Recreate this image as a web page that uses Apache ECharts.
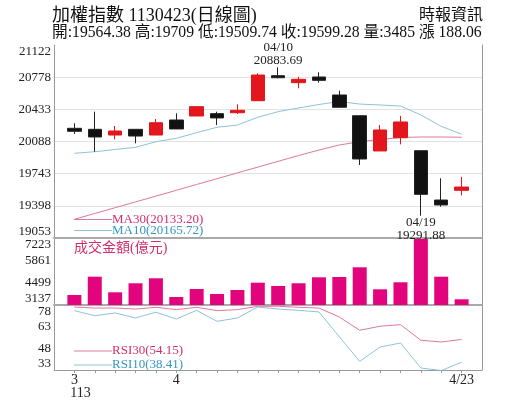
<!DOCTYPE html>
<html><head><meta charset="utf-8">
<script src="https://cdn.jsdelivr.net/npm/echarts@6/dist/echarts.min.js"></script>
<style>html,body{margin:0;padding:0;background:#fff}#c{width:515px;height:413px}</style>
</head><body><div id="c"></div>
<script>
// ---- data ----
const dates = ['03/25','03/26','03/27','03/28','03/29','04/01','04/02','04/03','04/08','04/09',
               '04/10','04/11','04/12','04/15','04/16','04/17','04/18','04/19','04/22','04/23'];
const openV  = [20229,20218,20157,20218,20157,20318,20361,20386,20396,20525,20793,20718,20779,20586,20364,19986,20128,19989,19460,19564.38];
const closeV = [20197,20136,20200,20146,20289,20222,20461,20340,20422,20800,20771,20754,20743,20454,19900,20211,20297,19521,19407,19599.28];
const lowV   = [20168,19978,20111,20068,20157,20222,20361,20264,20382,20525,20765,20658,20718,20454,19836,19986,20057,19291.88,19389,19509.74];
const highV  = [20283,20407,20254,20218,20329,20390,20465,20407,20486,20819,20883.69,20782,20829,20632,20364,20264,20361,19989,19693,19709];
const ma10   = [19961,19978,20002,20025,20085,20122,20182,20240,20264,20347,20407,20447,20484,20516,20489,20479,20468,20372,20250,20165.72];
const ma30   = [19253,19316,19378,19440,19502,19564,19627,19689,19751,19813,19875,19937,19996,20050,20085,20109,20130,20136,20136,20133.20];
const volume = [3747,4863,3912,4461,4766,3625,4113,3808,4052,4497,4296,4461,4827,4845,5437,4095,4522,7163,4863,3485];
const rsi30  = [76.6,75.9,75.9,75.2,76.4,74.8,76.4,74.1,74.8,77.1,77.1,76.4,75.9,69.7,60.5,63.3,64.4,53.6,52.4,54.15];
const rsi10  = [74.1,70.6,72.5,69.0,73.0,68.3,74.3,66.7,69.0,76.6,75.2,74.3,73.2,56.0,39.0,48.9,51.7,34.4,32.6,38.41];
const priceTicks = [19053,19398,19743,20088,20433,20778,21122];
const volTicks = [3137,4499,5861,7223];
const rsiTicks = [33,48,63,78];
const xLabels = {'03/25':'3','04/01':'4','04/23':'4/23'};
const rocYear = '113';
const titleText = '加權指數 1130423(日線圖)';
const sourceText = '時報資訊';
const infoText = '開:19564.38 高:19709 低:19509.74 收:19599.28 量:3485 漲 188.06';

// ---- chart ----
const SERIF = '"Liberation Serif","Times New Roman","Noto Sans CJK TC",serif';
const PINK_T = '#d12f6c', BLUE_T = '#3399c2';
const PINK_L = '#dc7a9c', BLUE_L = '#8ec3d6';
const cats = ['_s', ...dates, '_e'];
const pairs = arr => arr.map((v, i) => [dates[i], v]);
const last = a => a[a.length - 1];

const L = 54, W = 428;
const grids = [
  {left: L, width: W, top: 45, height: 193},
  {left: L, width: W, top: 238, height: 67},
  {left: L, width: W, top: 305, height: 65}
];
const xAxisBase = (gi, showLabels, lineW) => ({
  type: 'category', gridIndex: gi, data: cats, boundaryGap: false,
  axisLine: {show: true, lineStyle: {color: lineW > 1 ? '#a9a9a9' : '#999', width: lineW}},
  axisTick: {show: showLabels, length: 3, lineStyle: {color: '#999'},
             interval: (i, v) => v !== '_s' && v !== '_e'},
  axisLabel: {show: showLabels, interval: 0, margin: 3, fontFamily: SERIF, fontSize: 14, color: '#222',
              formatter: v => xLabels[v] || ''},
  splitLine: {show: false}
});
const yLabel = {fontFamily: SERIF, fontSize: 13, color: '#222', margin: 3,
  formatter: v => String(Math.round(v)),
  verticalAlignMinLabel: 'bottom', verticalAlignMaxLabel: 'top'};
const rightAxis = gi => ({type: 'value', gridIndex: gi, position: 'right', min: 0, max: 1,
  axisLine: {show: true, lineStyle: {color: '#999'}}, axisTick: {show: false},
  axisLabel: {show: false}, splitLine: {show: false}});

const textG = (x, y, text, style) => ({type: 'text', x, y, silent: true,
  style: Object.assign({text, fontFamily: SERIF, fill: '#222', verticalAlign: 'middle'}, style)});
const lineG = (x1, x2, y, color) => ({type: 'line', silent: true,
  shape: {x1, y1: y, x2, y2: y}, style: {stroke: color, lineWidth: 1}});

const option = {
  animation: false,
  backgroundColor: '#fff',
  grid: grids,
  xAxis: [xAxisBase(0, false, 2), xAxisBase(1, false, 2), xAxisBase(2, true, 1)],
  yAxis: [
    {type: 'value', gridIndex: 0, min: priceTicks[0], max: last(priceTicks),
     axisLine: {show: true, lineStyle: {color: '#999'}},
     axisTick: {show: false, customValues: priceTicks.slice(0, -1)},
     axisLabel: Object.assign({customValues: priceTicks}, yLabel),
     splitLine: {show: true, lineStyle: {color: '#e2e2e2', width: 1}}},
    {type: 'value', gridIndex: 1, min: volTicks[0], max: last(volTicks), startValue: volTicks[0],
     axisLine: {show: true, lineStyle: {color: '#999'}},
     axisTick: {show: false, customValues: volTicks},
     axisLabel: Object.assign({customValues: volTicks}, yLabel),
     splitLine: {show: false}},
    {type: 'value', gridIndex: 2, min: rsiTicks[0], max: last(rsiTicks),
     axisLine: {show: true, lineStyle: {color: '#999'}},
     axisTick: {show: false, customValues: rsiTicks},
     axisLabel: Object.assign({customValues: rsiTicks}, yLabel),
     splitLine: {show: false}},
    rightAxis(0), rightAxis(1), rightAxis(2)
  ],
  series: [
    {type: 'line', name: 'MA30', xAxisIndex: 0, yAxisIndex: 0, data: pairs(ma30),
     showSymbol: false, symbol: 'none', lineStyle: {color: PINK_L, width: 1}, z: 2},
    {type: 'line', name: 'MA10', xAxisIndex: 0, yAxisIndex: 0, data: pairs(ma10),
     showSymbol: false, symbol: 'none', lineStyle: {color: BLUE_L, width: 1}, z: 2},
    {type: 'candlestick', name: 'K', xAxisIndex: 0, yAxisIndex: 0, barWidth: 14, z: 3,
     encode: {x: 0, y: [1, 2, 3, 4]},
     data: dates.map((d, i) => [d, openV[i], closeV[i], lowV[i], highV[i]]),
     itemStyle: {color: '#e3161d', color0: '#111', borderColor: '#e3161d', borderColor0: '#222', borderWidth: 1},
     markPoint: {
       symbol: 'circle', symbolSize: 0, silent: true,
       label: {show: true, color: '#222', fontFamily: SERIF, fontSize: 13, lineHeight: 13},
       data: [
         {coord: [dates[10], highV[10]], label: {position: 'top', distance: 0,
           formatter: dates[10] + '\n' + highV[10].toFixed(2)}},
         {coord: [dates[17], lowV[17]], label: {position: 'bottom', distance: 0,
           formatter: dates[17] + '\n' + lowV[17].toFixed(2)}}
       ]
     }},
    {type: 'bar', name: '成交金額', xAxisIndex: 1, yAxisIndex: 1, data: pairs(volume),
     barWidth: 14, clip: true, itemStyle: {color: '#e2047c'}},
    {type: 'line', name: 'RSI30', xAxisIndex: 2, yAxisIndex: 2, data: pairs(rsi30),
     showSymbol: false, symbol: 'none', lineStyle: {color: PINK_L, width: 1}},
    {type: 'line', name: 'RSI10', xAxisIndex: 2, yAxisIndex: 2, data: pairs(rsi10),
     showSymbol: false, symbol: 'none', lineStyle: {color: BLUE_L, width: 1}}
  ],
  graphic: [
    textG(52, 16, titleText, {fontSize: 18, fill: '#111'}),
    textG(483, 16, sourceText, {fontSize: 16, fill: '#111', align: 'right'}),
    textG(52, 33, infoText, {fontSize: 15.7, fill: '#111'}),
    lineG(74, 112, 219.5, PINK_L),
    textG(112, 220, 'MA30(' + last(ma30).toFixed(2) + ')', {fontSize: 13, fill: PINK_T}),
    lineG(74, 112, 230.5, BLUE_L),
    textG(112, 231, 'MA10(' + last(ma10).toFixed(2) + ')', {fontSize: 13, fill: BLUE_T}),
    textG(74, 248, '成交金額(億元)', {fontSize: 14, fill: PINK_T}),
    lineG(74, 112, 351, PINK_L),
    textG(112, 351, 'RSI30(' + last(rsi30).toFixed(2) + ')', {fontSize: 13, fill: PINK_T}),
    lineG(74, 112, 365, BLUE_L),
    textG(112, 365, 'RSI10(' + last(rsi10).toFixed(2) + ')', {fontSize: 13, fill: BLUE_T}),
    textG(80.5, 393, rocYear, {fontSize: 14, align: 'center'})
  ]
};
const chart = echarts.init(document.getElementById('c'));
chart.setOption(option);
</script></body></html>
